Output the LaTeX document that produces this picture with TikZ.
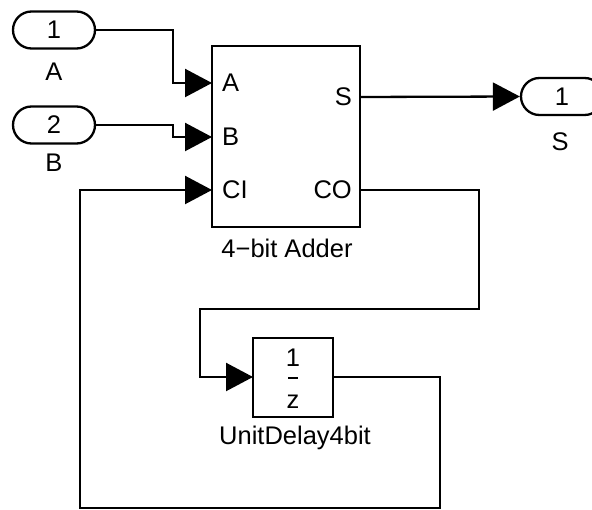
\documentclass[tikz,border=0pt]{standalone}
\usepackage{fontspec}
\setmainfont{Liberation Sans}
\usetikzlibrary{shapes.misc,arrows.meta}
\begin{document}
\begin{tikzpicture}[x=1pt,y=-1pt,
  every node/.style={font=\fontsize{25.5}{30}\selectfont, inner sep=0pt},
  wire/.style={line width=2.3pt},
  sig/.style={wire,-{Triangle[length=27pt,width=28pt]}},
  iport/.style={draw,line width=2.3pt,rounded rectangle,minimum width=82pt,minimum height=37pt},
  blk/.style={draw,line width=2.3pt,rectangle}]
\clip (0,0) rectangle (592,510);
% inports
\node[iport] (inA) at (54,30) {1};
\node (labA) at (54,72) {A};
\node[iport] (inB) at (54,125) {2};
\node (labB) at (54,163) {B};
% adder
\node[blk,minimum width=148pt,minimum height=181pt] (add) at (286,136.5) {};
\coordinate (addA) at (212,83);
\coordinate (addB) at (212,137);
\coordinate (addCI) at (212,190);
\coordinate (addS) at (360,97);
\coordinate (addCO) at (360,190);
\node[anchor=west] (tA) at (222,83) {A};
\node[anchor=west] (tB) at (222,137) {B};
\node[anchor=west] (tCI) at (222,190) {CI};
\node[anchor=east] (tS) at (352,97) {S};
\node[anchor=east] (tCO) at (352,190) {CO};
\node (addlab) at (287,248) {4−bit Adder};
% outport
\node[iport] (outS) at (562,96.5) {1};
\node (labS) at (560,142) {S};
% unit delay
\node[blk,minimum width=80pt,minimum height=79pt] (ud) at (293,377.5) {};
\node (udn) at (293,358) {1};
\node (udz) at (293,402) {z};
\draw[line width=1.8pt] (288,378) -- (298,378);
\node (udlab) at (295,438) {UnitDelay4bit};
\coordinate (udin) at (253,377);
\coordinate (udout) at (333,377);
% wires
\draw[sig] (inA.east) -- (173,30) -- (173,83) -- (addA);
\draw[sig] (inB.east) -- (173,125) -- (173,137) -- (addB);
\draw[sig] (addS) -- (outS.west);
\draw[sig] (addCO) -- (479,190) -- (479,309) -- (200,309) -- (200,377) -- (udin);
\draw[sig] (udout) -- (440,377) -- (440,508) -- (80,508) -- (80,190) -- (addCI);
\end{tikzpicture}
\end{document}
